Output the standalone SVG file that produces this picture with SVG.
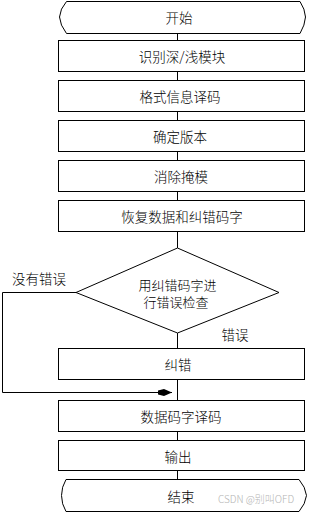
<svg xmlns="http://www.w3.org/2000/svg" width="309" height="513" viewBox="0 0 309 513">
<defs>
<style>
.s{fill:#fff;stroke:#000;stroke-width:1}
.t{font-family:"Noto Sans CJK SC","Noto Sans CJK JP",sans-serif;font-size:13.5px;font-weight:300;fill:#000;text-anchor:middle;dominant-baseline:central}
.d{font-size:13px}
.c{fill:none;stroke:#000;stroke-width:1}
</style>
<marker id="ah" viewBox="0 0 14 8" refX="14" refY="4" markerWidth="14" markerHeight="8" markerUnits="userSpaceOnUse" orient="auto">
<path d="M0,2 L6,0.5 L14,4 L6,7.5 L0,6 Z" fill="#000"/>
</marker>
</defs>
<rect width="309" height="513" fill="#fff"/>
<g id="connectors">
<path class="c" d="M177.5,33.5 V40.5 M177.5,71.5 V80.5 M177.5,111.5 V120.5 M177.5,151.5 V160.5 M177.5,191.5 V200.5 M177.5,231.5 V248 M177.5,333 V348.5 M177.5,379.5 V400.5 M177.5,431.5 V440.5 M177.5,470.5 V479.5"/>
<path class="c" d="M76,292.5 H2.5 V392.5 H172" marker-end="url(#ah)"/>
</g>
<g id="start">
<path class="s" d="M66.5,1.5 H300 Q305,9 305.5,17 Q305,25 300,33.5 H66.5 Q60,25 59.5,17 Q60,9 66.5,1.5 Z"/>
<text class="t" x="179" y="17">开始</text>
</g>
<g id="n1"><rect class="s" x="58.5" y="40.5" width="246" height="31"/><text class="t" x="182" y="56">识别深/浅模块</text></g>
<g id="n2"><rect class="s" x="58.5" y="80.5" width="246" height="31"/><text class="t" x="180" y="96">格式信息译码</text></g>
<g id="n3"><rect class="s" x="58.5" y="120.5" width="246" height="31"/><text class="t" x="180" y="136">确定版本</text></g>
<g id="n4"><rect class="s" x="58.5" y="160.5" width="246" height="31"/><text class="t" x="181" y="176">消除掩模</text></g>
<g id="n5"><rect class="s" x="58.5" y="200.5" width="246" height="31"/><text class="t" x="182" y="216">恢复数据和纠错码字</text></g>
<g id="decision">
<path class="s" d="M177.5,248 L279,292.5 L177.5,333 L76,292.5 Z"/>
<text class="t d" x="177.5" y="284">用纠错码字进</text>
<text class="t d" x="176" y="301.5">行错误检查</text>
</g>
<g id="label-no"><text class="t" x="39" y="278">没有错误</text></g>
<g id="label-yes"><text class="t" x="235" y="334">错误</text></g>
<g id="n6"><rect class="s" x="58.5" y="348.5" width="246" height="31"/><text class="t" x="178" y="364">纠错</text></g>
<g id="n7"><rect class="s" x="58.5" y="400.5" width="246" height="31"/><text class="t" x="181" y="416">数据码字译码</text></g>
<g id="n8"><rect class="s" x="58.5" y="440.5" width="246" height="30"/><text class="t" x="178" y="456">输出</text></g>
<g id="end">
<path class="s" d="M66,479.5 H299 Q305.5,487 306.5,495.5 Q305.5,504 299,511.5 H66 Q61.5,504 61.5,495.5 Q61.5,487 66,479.5 Z"/>
<text class="t" x="181" y="495.5">结束</text>
</g>
<text x="256" y="498" style="font-family:'Noto Sans CJK SC',sans-serif;font-size:10px;font-weight:300;fill:#b4b4b4;text-anchor:middle;dominant-baseline:central">CSDN @别叫OFD</text>
</svg>
